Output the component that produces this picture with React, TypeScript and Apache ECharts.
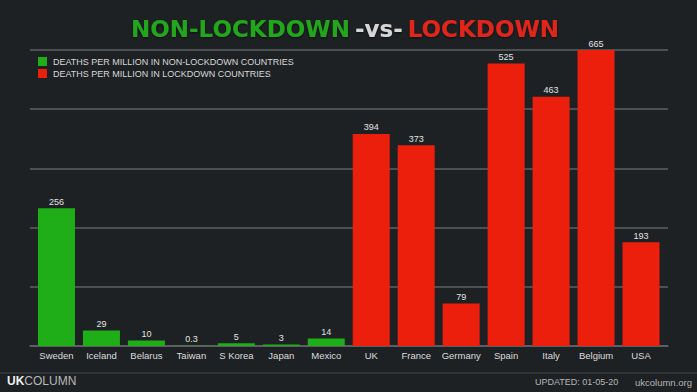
import React, { useEffect, useRef } from "react";
import * as echarts from "echarts";

const categories = ["Sweden", "Iceland", "Belarus", "Taiwan", "S Korea", "Japan", "Mexico", "UK", "France", "Germany", "Spain", "Italy", "Belgium", "USA"];
const nonLockdownValues: (number | null)[] = [256, 29, 10, 0.3, 5, 3, 14, null, null, null, null, null, null, null];
const lockdownValues: (number | null)[] = [null, null, null, null, null, null, null, 394, 373, 79, 525, 463, 665, 193];
const Y_MAX = 550;
const Y_INTERVAL = 110;
const legendNames = ["DEATHS PER MILLION IN NON-LOCKDOWN COUNTRIES", "DEATHS PER MILLION IN LOCKDOWN COUNTRIES"];

const GREEN = "#1fae18";
const RED = "#ec1f0c";
const FONT = "'Liberation Sans', Arial, sans-serif";

function toSeries(vals: (number | null)[]) {
  return vals.map((v) => (v === null ? "-" : Math.min(v, Y_MAX)));
}

export default function App() {
  const ref = useRef<HTMLDivElement>(null);
  useEffect(() => {
    if (!ref.current) return;
    const chart = echarts.init(ref.current, null, { renderer: "svg" });
    const labelFor = (vals: (number | null)[]) => ({
      show: true,
      position: "top" as const,
      distance: 2,
      color: "#e2e2e2",
      fontSize: 9,
      fontFamily: FONT,
      formatter: (p: any) => String(vals[p.dataIndex]),
    });
    const titleStyle = (color: string) => ({
      color,
      fontSize: 23,
      fontWeight: 900,
      fontFamily: "'DejaVu Sans', sans-serif",
      textShadowColor: "rgba(0,0,0,0.6)",
      textShadowBlur: 2,
      textShadowOffsetY: 1,
    });
    chart.setOption({
      animation: false,
      backgroundColor: "#1e2124",
      title: {
        left: 126,
        top: 12,
        text: "{g|NON-LOCKDOWN} {w|-vs-} {r|LOCKDOWN}",
        textStyle: {
          rich: {
            g: titleStyle("#22a61c"),
            w: titleStyle("#d6d6d6"),
            r: titleStyle("#e0281a"),
          },
        },
      },
      legend: {
        orient: "vertical",
        left: 33,
        top: 52,
        itemWidth: 9,
        itemHeight: 9,
        itemGap: 3,
        icon: "rect",
        data: legendNames,
        textStyle: { color: "#d8d8d8", fontSize: 9, fontFamily: FONT, padding: [0, 0, 0, 1] },
      },
      grid: [
        { left: 34, right: 33.5, top: 50, bottom: 46 },
        { left: 30, right: 29, top: 50, bottom: 46 },
      ],
      xAxis: [
        {
          type: "category",
          gridIndex: 0,
          data: categories,
          axisLine: { show: false },
          axisTick: { show: false },
          axisLabel: { color: "#dcdcdc", fontSize: 9.5, fontFamily: FONT, margin: 4, interval: 0 },
        },
        {
          type: "category",
          gridIndex: 1,
          data: [""],
          axisLine: { show: true, lineStyle: { color: "#616466", width: 1.5 } },
          axisTick: { show: false },
          axisLabel: { show: false },
        },
      ],
      yAxis: [
        { type: "value", gridIndex: 0, min: 0, max: Y_MAX, interval: Y_INTERVAL, show: false, splitLine: { show: false } },
        {
          type: "value",
          gridIndex: 1,
          min: 0,
          max: Y_MAX,
          interval: Y_INTERVAL,
          axisLabel: { show: false },
          axisLine: { show: false },
          axisTick: { show: false },
          splitLine: { show: true, lineStyle: { color: "#5e6163", width: 1.5 } },
        },
      ],
      series: [
        {
          name: legendNames[0],
          type: "bar",
          xAxisIndex: 0,
          yAxisIndex: 0,
          data: toSeries(nonLockdownValues),
          barWidth: 37,
          barGap: "-100%",
          itemStyle: { color: GREEN },
          label: labelFor(nonLockdownValues),
        },
        {
          name: legendNames[1],
          type: "bar",
          xAxisIndex: 0,
          yAxisIndex: 0,
          data: toSeries(lockdownValues),
          barWidth: 37,
          barGap: "-100%",
          itemStyle: { color: RED },
          label: labelFor(lockdownValues),
        },
      ],
      graphic: [
        { type: "line", shape: { x1: 0, y1: 373, x2: 697, y2: 373 }, style: { stroke: "#383b3e", lineWidth: 1.5 } },
        {
          type: "text",
          left: 7,
          top: 375,
          style: {
            text: "{b|UK}{t|COLUMN}",
            rich: {
              b: { fill: "#f0f0f0", fontSize: 12, fontWeight: "bold", fontFamily: FONT },
              t: { fill: "#b8b8b8", fontSize: 12, fontWeight: "normal", fontFamily: FONT },
            },
          },
        },
        { type: "text", left: 535, top: 377, style: { text: "UPDATED: 01-05-20", fill: "#b5b5b5", fontSize: 9, fontFamily: FONT } },
        { type: "text", left: 635, top: 377, style: { text: "ukcolumn.org", fill: "#b5b5b5", fontSize: 9.5, fontFamily: FONT } },
      ],
    });
    return () => chart.dispose();
  }, []);
  return <div ref={ref} style={{ position: "fixed", left: 0, top: 0, width: 697, height: 392 }} />;
}
